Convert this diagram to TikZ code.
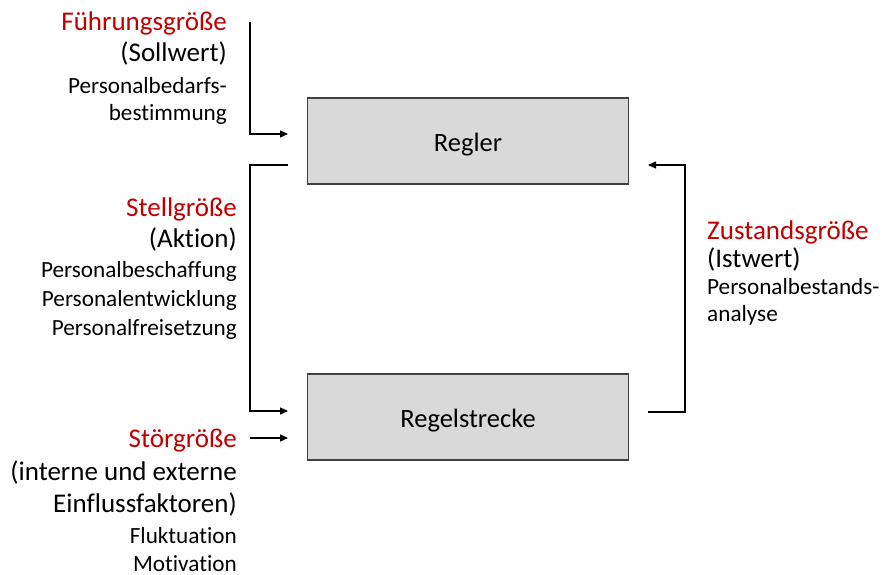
\documentclass[tikz,border=0pt]{standalone}
\usepackage{fontspec}
\setmainfont{Carlito}[Ligatures={NoCommon}]
\usetikzlibrary{arrows.meta}
\definecolor{darkred}{HTML}{C00000}
\definecolor{boxfill}{HTML}{D9D9D9}
\definecolor{boxline}{HTML}{404040}
\begin{document}
\begin{tikzpicture}[x=1pt,y=-1pt,
  block/.style={draw=boxline,fill=boxfill,line width=1.4pt,minimum width=321pt,minimum height=86pt,inner sep=0pt,text height=23pt,text depth=3pt,font=\fontsize{26.5}{30}\selectfont},
  big/.style={inner sep=0pt,font=\fontsize{27}{30}\selectfont},
  small/.style={inner sep=0pt,font=\fontsize{23.2}{27}\selectfont},
  redt/.style={text=darkred},
  conn/.style={line width=1.2pt,black},
  arr/.style={conn,-{Triangle[length=8pt,width=7pt]}}]
\useasboundingbox (0,0) rectangle (883,575);
% boxes
\node[block] (regler) at (468,141) {Regler};
\node[block] (strecke) at (468,417) {Regelstrecke};
% Führungsgröße
\node[big,redt,anchor=base east] (f1) at (227,31) {Führungsgröße};
\node[big,anchor=base east] (f2) at (227,62) {(Sollwert)};
\node[small,anchor=base east] (f3) at (227,94) {Personalbedarfs-};
\node[small,anchor=base east] (f4) at (227,121) {bestimmung};
% Stellgröße
\node[big,redt,anchor=base east] (s1) at (237,216) {Stellgröße};
\node[big,anchor=base east] (s2) at (237,247) {(Aktion)};
\node[small,anchor=base east] (s3) at (237,277) {Personalbeschaffung};
\node[small,anchor=base east] (s4) at (237,306) {Personalentwicklung};
\node[small,anchor=base east] (s5) at (237,335) {Personalfreisetzung};
% Störgröße
\node[big,redt,anchor=base east] (d1) at (237,447) {Störgröße};
\node[big,anchor=base east] (d2) at (237,480) {(interne und externe};
\node[big,anchor=base east] (d3) at (237,512) {Einflussfaktoren)};
\node[small,anchor=base east] (d4) at (237,543) {Fluktuation};
\node[small,anchor=base east] (d5) at (237,571) {Motivation};
% Zustandsgröße
\node[big,redt,anchor=base west] (z1) at (707,239) {Zustandsgröße};
\node[big,anchor=base west] (z2) at (707,267) {(Istwert)};
\node[small,anchor=base west] (z3) at (707,294) {Personalbestands-};
\node[small,anchor=base west] (z4) at (707,321) {analyse};
% connector points
\coordinate (fa) at (250,22);
\coordinate (fb) at (288,134);
\coordinate (sa) at (288,165);
\coordinate (sb) at (250,165);
\coordinate (sc) at (288,411);
\coordinate (da) at (250,438);
\coordinate (db) at (288,438);
\coordinate (za) at (648,412);
\coordinate (zb) at (685,412);
\coordinate (zc) at (648,165);
% connectors
\draw[arr] (fa) |- (fb);
\draw[arr] (sa) -- (sb) |- (sc);
\draw[arr] (da) -- (db);
\draw[arr] (za) -- (zb) |- (zc);
\end{tikzpicture}
\end{document}
